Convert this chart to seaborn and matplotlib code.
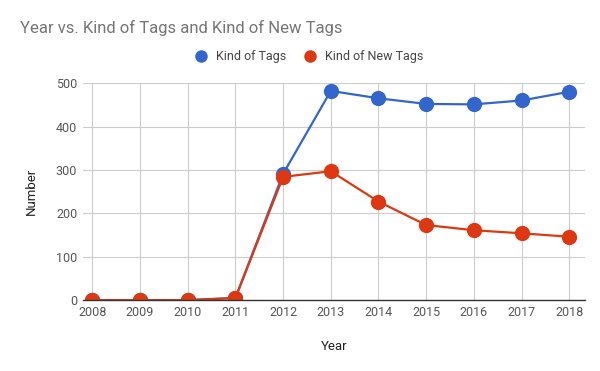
import pandas as pd
import seaborn as sns
from matplotlib import pyplot as plt
from matplotlib.lines import Line2D

years = [2008, 2009, 2010, 2011, 2012, 2013, 2014, 2015, 2016, 2017, 2018]
kind_of_tags = [0, 0, 0, 5, 291, 482, 465, 452, 451, 460, 480]
kind_of_new_tags = [0, 0, 0, 5, 284, 297, 227, 173, 161, 154, 146]
series_names = ["Kind of Tags", "Kind of New Tags"]
colors = ["#3366cc", "#dc3912"]


def main():
    df = pd.DataFrame({
        "Year": years * 2,
        "Number": kind_of_tags + kind_of_new_tags,
        "series": [series_names[0]] * len(years) + [series_names[1]] * len(years),
    })

    sns.set_theme(style="white")
    plt.rcParams["font.family"] = ["Roboto", "DejaVu Sans"]
    fig = plt.figure(figsize=(6, 3.71), dpi=100)
    ax = fig.add_axes([0.138, 0.191, 0.837, 0.585])

    sns.lineplot(data=df, x="Year", y="Number", hue="series", palette=colors,
                 marker="o", markersize=11, markeredgewidth=0, linewidth=1.6,
                 ax=ax, legend=False)

    ax.set_xlim(2007.8, 2018.33)
    ax.set_ylim(0, 500)
    ax.set_xticks(years)
    ax.set_yticks([0, 100, 200, 300, 400, 500])
    ax.grid(True, color="#cccccc", linewidth=0.8)
    for s in ["top", "right", "left"]:
        ax.spines[s].set_visible(False)
    ax.spines["bottom"].set_color("#333333")
    ax.spines["bottom"].set_linewidth(1)
    ax.set_axisbelow(True)
    ax.tick_params(axis="both", labelsize=9, colors="#444444", length=0, pad=4)
    for lab in ax.get_xticklabels() + ax.get_yticklabels():
        lab.set_color("#555555")
    ax.set_xlabel("Year", fontsize=9.5, color="#222222", labelpad=15)
    ax.set_ylabel("Number", fontsize=9.5, color="#222222", labelpad=13)

    fig.text(0.033, 0.925, "Year vs. Kind of Tags and Kind of New Tags",
             fontsize=12, color="#757575", va="center")

    handles = [Line2D([], [], linestyle="none", marker="o", markersize=9,
                      markeredgewidth=0, color=c) for c in colors]
    fig.legend(handles, series_names, loc="center", bbox_to_anchor=(0.51, 0.847),
               ncol=2, frameon=False, fontsize=9, labelcolor="#444444",
               handletextpad=0.2, columnspacing=0.9)

    fig.savefig("out.png", dpi=100)


if __name__ == "__main__":
    main()
